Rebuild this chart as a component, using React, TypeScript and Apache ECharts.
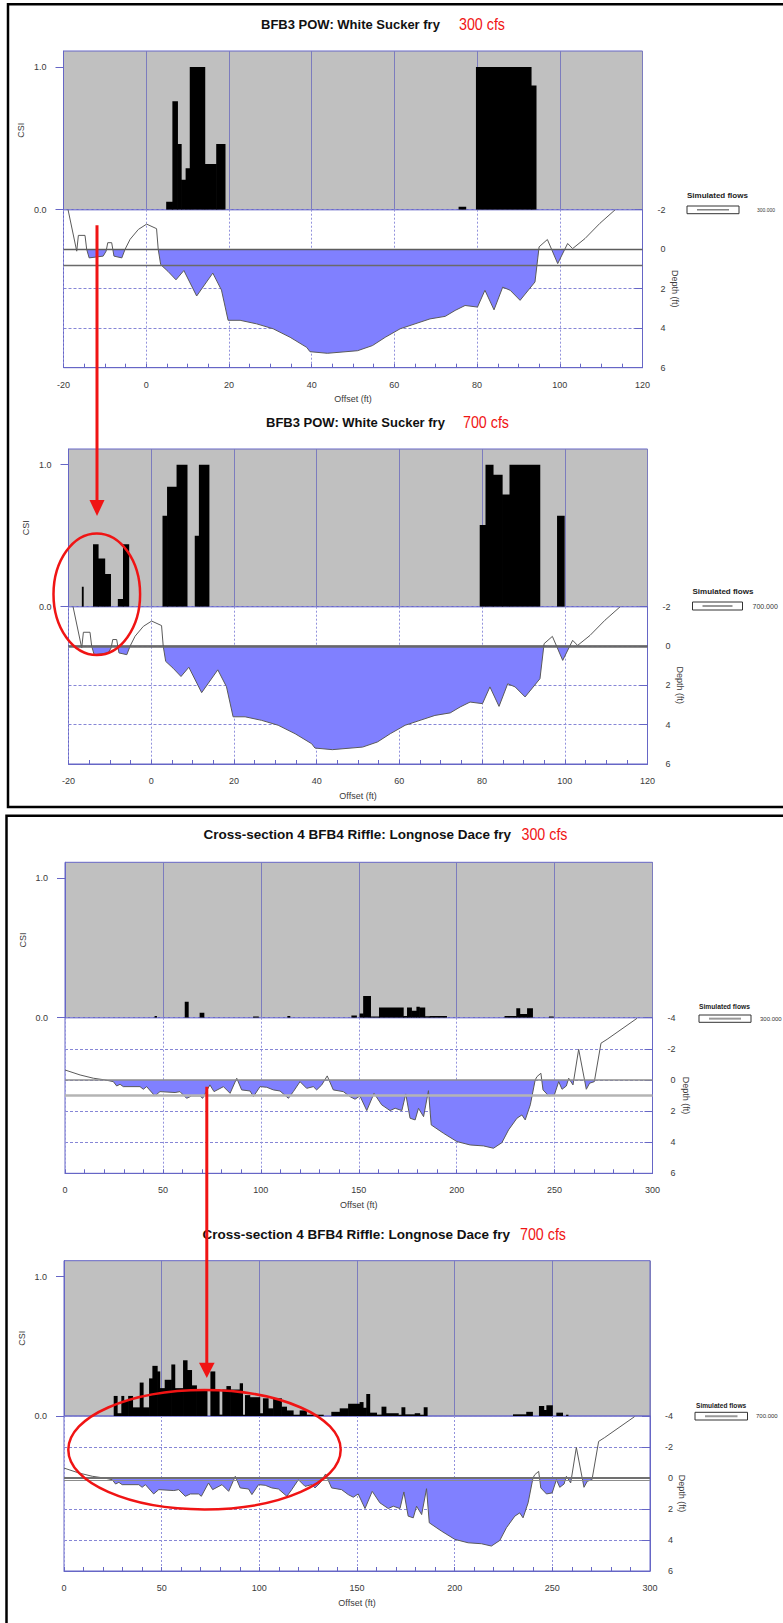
import React, { useEffect, useRef } from "react";
import * as echarts from "echarts";

// ---------------- DATA ----------------
// Bed profiles: [offset (ft), depth (ft)] (depth positive downward)
const bfb3Profile: [number, number][] = [
  [-18.9, -2.0], [-16.8, 0.1], [-16.4, -0.7], [-14.8, -0.7], [-14.4, 0.0], [-13.8, 0.44],
  [-10.4, 0.35], [-9.7, 0.1], [-9.3, -0.33], [-8.35, -0.33], [-7.8, 0.35], [-5.9, 0.44],
  [-5.1, 0.0], [-3.9, -0.5], [-1.9, -1.0], [0.1, -1.27], [2.5, -1.04], [2.9, 0.0],
  [3.5, 0.78], [5.3, 1.13], [7.2, 1.55], [9.1, 1.08], [12.2, 2.37], [16.1, 1.21],
  [18.2, 2.07], [19.8, 3.6], [22.7, 3.6], [26.7, 3.78], [30.7, 4.03], [34.8, 4.46],
  [38.8, 4.97], [39.6, 5.19], [43.8, 5.27], [51.1, 5.14], [54.7, 4.88], [57.8, 4.46],
  [61.4, 4.03], [65.0, 3.78], [68.6, 3.53], [72.3, 3.4], [74.7, 3.1], [77.1, 2.85],
  [80.1, 2.93], [81.9, 2.08], [84.1, 3.07], [86.2, 1.92], [88.0, 2.08], [90.4, 2.59],
  [94.0, 1.66], [95.0, -0.12], [97.0, -0.49], [99.5, 0.73], [101.9, -0.29], [103.1, -0.03],
  [106.1, -0.54], [109.7, -1.31], [113.4, -2.0],
];

const bfb4Profile: [number, number][] = [
  [0, -0.64], [7.7, -0.32], [14.5, -0.11], [20.5, 0], [24.7, 0.11], [26.4, 0.39], [28.1, 0.28],
  [29.8, 0.43], [38.3, 0.43], [40.0, 0.6], [41.7, 0.43], [45.9, 1.03], [48.5, 0.75], [56.2, 0.81],
  [58.7, 0.75], [62.1, 1.18], [64.7, 1.03], [68.9, 1.03], [70.3, 1.18], [74.0, 0.32], [76.1, 0.75],
  [80.9, 0.43], [84.3, 0.86], [87.7, -0.11], [90.2, 0.64], [94.5, 0.71], [96.2, 1.07], [99.6, 0.43],
  [103.0, 0.47], [106.4, 0.64], [109.8, 0.71], [114.1, 1.18], [116.6, 0.75], [120.0, 0.11],
  [123.4, 0.54], [126.8, 0.43], [128.5, 0.64], [131.1, 0.32], [133.9, -0.26], [137.0, 0.64],
  [142.1, 0.75], [145.5, 1.07], [148.1, 1.24], [150.6, 1.03], [154.1, 1.97], [157.8, 0.86],
  [161.7, 1.6], [166.0, 1.97], [168.6, 1.82], [172.0, 1.97], [174.0, 0.9], [176.2, 2.46],
  [178.8, 2.57], [180.5, 1.82], [183.1, 2.36], [185.6, 0.69], [187.0, 2.89], [193.3, 3.43],
  [200.1, 3.96], [206.9, 4.18], [213.7, 4.24], [218.8, 4.39], [223.1, 4.03], [226.5, 3.21],
  [230.8, 2.46], [233.3, 2.25], [235.0, 2.57], [237.6, 1.6], [240.1, 0], [241.0, -0.21],
  [243.0, -0.43], [244.1, 0.64], [247.0, 1.03], [249.9, 0.96], [252.1, 0.11], [253.8, 0.6],
  [256.0, 0.39], [257.2, -0.11], [259.4, 0.32], [262.3, -1.97], [266.2, 0.6], [267.9, 0.21],
  [270.3, 0.11], [273.7, -2.36], [276.8, -2.61], [292.1, -3.96],
];

// CSI cells: [start offset, end offset, CSI]
const p1Csi: [number, number, number][] = [
  [4.9, 6.4, 0.055], [6.4, 7.6, 0.76], [7.6, 8.5, 0.46], [8.5, 9.6, 0.21], [9.6, 10.6, 0.29],
  [10.6, 14.2, 1.0], [14.2, 17.0, 0.32], [17.0, 19.1, 0.46], [75.6, 77.3, 0.02],
  [79.8, 93.1, 1.0], [93.1, 94.3, 0.87],
];

const p2Csi: [number, number, number][] = [
  [-16.7, -16.4, 0.14], [-14.0, -12.8, 0.44], [-12.8, -11.2, 0.34], [-11.2, -9.8, 0.23],
  [-8.0, -6.75, 0.054], [-6.75, -5.4, 0.44], [2.8, 3.9, 0.64], [3.9, 6.2, 0.845], [6.2, 8.7, 1.0],
  [10.6, 11.6, 0.5], [11.6, 14.0, 1.0], [79.5, 80.9, 0.575], [80.9, 82.7, 1.0], [82.7, 84.9, 0.93],
  [84.9, 86.7, 0.79], [86.7, 94.0, 1.0], [98.2, 99.9, 0.64],
];

const p3Csi: [number, number, number][] = [
  [45.9, 46.8, 0.012], [61.3, 63.0, 0.115], [68.9, 71.0, 0.036], [96.2, 98.8, 0.007],
  [113.7, 114.9, 0.012], [146.4, 148.9, 0.015], [150.6, 152.4, 0.03], [152.4, 156.1, 0.155],
  [156.1, 160.5, 0.008], [160.5, 172.8, 0.074], [172.8, 174.8, 0.012], [174.8, 177.0, 0.074],
  [177.0, 179.6, 0.05], [179.6, 181.0, 0.079], [181.0, 183.8, 0.074], [183.8, 186.4, 0.01],
  [186.4, 194.9, 0.012], [224.6, 230.6, 0.012], [230.6, 232.3, 0.067], [232.3, 236.1, 0.026],
  [236.1, 238.8, 0.067], [247.3, 249.4, 0.007],
];

const p4Csi: [number, number, number][] = [
  [25.6, 27.3, 0.144], [27.3, 29.5, 0.02], [29.5, 30.7, 0.144], [30.7, 33.0, 0.115],
  [33.0, 35.2, 0.144], [35.2, 38.9, 0.062], [38.9, 40.6, 0.24], [40.6, 43.7, 0.062],
  [43.7, 45.4, 0.27], [45.4, 47.8, 0.36], [47.8, 49.1, 0.32], [49.1, 51.7, 0.2],
  [51.7, 55.1, 0.26], [55.1, 56.8, 0.37], [56.8, 61.1, 0.2], [61.1, 63.1, 0.4],
  [63.1, 65.4, 0.33], [65.4, 67.9, 0.22], [67.9, 73.3, 0.19], [75.1, 77.3, 0.32],
  [77.3, 79.5, 0.19], [79.5, 81.2, 0.01], [81.2, 83.3, 0.19], [83.3, 85.3, 0.215],
  [85.3, 90.1, 0.19], [90.1, 91.5, 0.235], [91.5, 92.8, 0.007], [92.8, 95.2, 0.15],
  [95.2, 100.3, 0.135], [100.3, 102.0, 0.02], [102.0, 104.6, 0.127], [104.6, 107.2, 0.055],
  [107.2, 111.4, 0.127], [111.4, 114.0, 0.067], [114.0, 117.4, 0.04], [117.4, 120.8, 0.007],
  [120.8, 124.2, 0.04], [124.2, 132.8, 0.007], [137.0, 141.3, 0.03], [141.3, 145.6, 0.055],
  [145.6, 151.5, 0.088], [151.5, 153.2, 0.1], [153.2, 154.9, 0.06], [154.9, 156.6, 0.158],
  [156.6, 160.1, 0.024], [160.1, 162.7, 0.01], [162.7, 164.9, 0.067], [164.9, 171.2, 0.02],
  [171.2, 172.9, 0.005], [172.9, 174.6, 0.062], [174.6, 179.7, 0.012], [179.7, 182.2, 0.02],
  [182.2, 184.3, 0.005], [184.3, 186.0, 0.062], [230.0, 236.8, 0.012], [236.8, 239.9, 0.03],
  [243.3, 245.7, 0.072], [245.7, 247.1, 0.043], [247.1, 250.1, 0.077], [252.2, 255.3, 0.024],
  [257.2, 258.1, 0.005],
];

// Water surface lines (depth ft)
const p1Water = [0, 0.8];
const p2Water = [0, 0.06];
const p3Water = [0, 0.96];
const p4Water = [0, 0.15];

// Tick labels
const bfb3OffsetTicks = [-20, 0, 20, 40, 60, 80, 100, 120];
const bfb4OffsetTicks = [0, 50, 100, 150, 200, 250, 300];
const bfb3DepthTicks = [-2, 0, 2, 4, 6];
const bfb4DepthTicks = [-4, -2, 0, 2, 4, 6];
const csiTicks = [0, 1];

// Texts
const bfb3Title = "BFB3 POW: White Sucker fry";
const bfb4Title = "Cross-section 4 BFB4 Riffle: Longnose Dace fry";
const flowLabels = ["300 cfs", "700 cfs", "300 cfs", "700 cfs"];
const legendTitle = "Simulated flows";
const legendValues = ["300.000", "700.000", "300.000", "700.000"];

// ---------------- STYLE / LAYOUT ----------------
const BLUE = "#6666c6";
const GRID_SOLID = "#7c7cbe";
const GRID_DASH = "#9292dc";
const FILL = "#8080ff";
const RED = "#f01414";
const TXT = "#3a3a3a";
const FONT = "Liberation Sans, Arial, sans-serif";

const panels = [
  {
    left: 63.5, right: 642.5, top: 51, csiOne: 67, csiZero: 209.7, bottom: 367.7,
    title: bfb3Title, titleX: 261, flowX: 459, titleY: 24, titleSize: 13,
    lg: { x: 687, y: 195, bx: 687, by: 206, bw: 52, bh: 7.7, vx: 757, vy: 210, ns: 8, vs: 5, lc: "#444", lw: 1 },
    profile: bfb3Profile, csi: p1Csi, water: p1Water,
    waterStyle: [{ color: "#5c5c5c", width: 1.3 }, { color: "#6a6a6a", width: 1.3 }],
    offsetTicks: bfb3OffsetTicks, minorSplit: 4, depthTicks: bfb3DepthTicks, depthGap: 27.5,
  },
  {
    left: 68.5, right: 647.5, top: 449, csiOne: 464.7, csiZero: 606.7, bottom: 764,
    title: bfb3Title, titleX: 266, flowX: 463, titleY: 422.3, titleSize: 13,
    lg: { x: 692.5, y: 591, bx: 692.5, by: 602, bw: 50, bh: 8, vx: 752.5, vy: 606, ns: 8, vs: 7, lc: "#999", lw: 2 },
    profile: bfb3Profile, csi: p2Csi, water: p2Water,
    waterStyle: [{ color: "#505050", width: 1.6 }, { color: "#6a6a6a", width: 1.6 }],
    offsetTicks: bfb3OffsetTicks, minorSplit: 4, depthTicks: bfb3DepthTicks, depthGap: 27.5,
  },
  {
    left: 65, right: 652.5, top: 862.3, csiOne: 878.3, csiZero: 1017.7, bottom: 1173.3,
    title: bfb4Title, titleX: 203.5, flowX: 521.5, titleY: 834.3, titleSize: 13.5,
    lg: { x: 699, y: 1006.7, bx: 699, by: 1015, bw: 52, bh: 7.3, vx: 760, vy: 1018.6, ns: 6.7, vs: 6, lc: "#999", lw: 2 },
    profile: bfb4Profile, csi: p3Csi, water: p3Water,
    waterStyle: [{ color: "#8c8c8c", width: 1.5 }, { color: "#b4b4b4", width: 2.5 }],
    offsetTicks: bfb4OffsetTicks, minorSplit: 5, depthTicks: bfb4DepthTicks, depthGap: 29,
  },
  {
    left: 64, right: 650, top: 1260.7, csiOne: 1276.7, csiZero: 1416, bottom: 1571,
    title: bfb4Title, titleX: 202.5, flowX: 520, titleY: 1234.3, titleSize: 13.5,
    lg: { x: 696, y: 1405, bx: 695, by: 1412.3, bw: 52.5, bh: 7.7, vx: 756, vy: 1416, ns: 6.6, vs: 6, lc: "#999", lw: 2 },
    profile: bfb4Profile, csi: p4Csi, water: p4Water,
    waterStyle: [{ color: "#707070", width: 1.8 }, { color: "#8c8c8c", width: 1 }],
    offsetTicks: bfb4OffsetTicks, minorSplit: 5, depthTicks: bfb4DepthTicks, depthGap: 27.5,
  },
];

function buildOption() {
  const grid: any[] = [];
  const xAxis: any[] = [];
  const yAxis: any[] = [];
  const series: any[] = [];
  const elements: any[] = [];

  panels.forEach((p, i) => {
    const g = i * 3;
    const width = p.right - p.left;
    const ot = p.offsetTicks;
    const xMin = ot[0];
    const xMax = ot[ot.length - 1];
    const xInt = ot[1] - ot[0];
    const dt = p.depthTicks;
    const dMin = dt[0];
    const dMax = dt[dt.length - 1];
    const dInt = dt[1] - dt[0];
    const csiMax = (p.csiZero - p.top) / (p.csiZero - p.csiOne);
    const waterTop = p.csiZero + ((0 - dMin) / (dMax - dMin)) * (p.bottom - p.csiZero);

    grid.push({
      left: p.left, top: p.top, width, height: p.csiZero - p.top, show: true,
      backgroundColor: "#c0c0c0", borderColor: BLUE, borderWidth: 1, containLabel: false, outerBoundsMode: "none",
    });
    grid.push({
      left: p.left, top: p.csiZero, width, height: p.bottom - p.csiZero, show: true,
      backgroundColor: "rgba(0,0,0,0)", borderColor: BLUE, borderWidth: 1, containLabel: false, outerBoundsMode: "none",
    });
    grid.push({
      left: p.left, top: waterTop, width, height: p.bottom - waterTop, show: false,
      containLabel: false, outerBoundsMode: "none",
    });

    // CSI axes
    xAxis.push({
      type: "value", gridIndex: g, min: xMin, max: xMax, interval: xInt,
      axisLabel: { show: false }, axisTick: { show: false }, axisLine: { show: false, onZero: false },
      splitLine: { show: true, lineStyle: { color: GRID_SOLID, width: 1 } },
    });
    yAxis.push({
      type: "value", gridIndex: g, min: 0, max: csiMax, position: "left",
      axisLine: { show: true, onZero: false, lineStyle: { color: BLUE, width: 1 } },
      axisTick: { show: true, length: 8, customValues: csiTicks, lineStyle: { color: BLUE } },
      axisLabel: {
        customValues: csiTicks, formatter: (v: number) => v.toFixed(1),
        margin: 17, fontSize: 9, color: TXT, fontFamily: FONT,
      },
      splitLine: { show: false },
      name: "CSI", nameLocation: "middle", nameGap: 38, nameMoveOverlap: false,
      nameTextStyle: { fontSize: 9, color: TXT, fontFamily: FONT },
    });

    // Depth (line) axes
    xAxis.push({
      type: "value", gridIndex: g + 1, min: xMin, max: xMax, interval: xInt, position: "bottom",
      axisLine: { show: true, onZero: false, lineStyle: { color: BLUE, width: 1 } },
      axisTick: { show: true, inside: true, length: 4, lineStyle: { color: BLUE } },
      minorTick: { show: true, splitNumber: p.minorSplit, length: 4, lineStyle: { color: BLUE } },
      axisLabel: { fontSize: 9, color: TXT, margin: 12.5, fontFamily: FONT },
      splitLine: { show: true, lineStyle: { color: GRID_DASH, width: 1, type: [2, 2] } },
      minorSplitLine: { show: false },
      name: "Offset (ft)", nameLocation: "middle", nameGap: 27, nameMoveOverlap: false,
      nameTextStyle: { fontSize: 9, color: TXT, fontFamily: FONT },
    });
    yAxis.push({
      type: "value", gridIndex: g + 1, position: "right", inverse: true,
      min: dMin, max: dMax, interval: dInt,
      axisLine: { show: true, onZero: false, lineStyle: { color: BLUE, width: 1 } },
      axisTick: { show: true, inside: true, length: 8, lineStyle: { color: BLUE } },
      axisLabel: { fontSize: 9, color: TXT, margin: 23, align: "right", fontFamily: FONT },
      splitLine: { show: true, lineStyle: { color: "#8686d6", width: 1, type: [3, 2] } },
      name: "Depth (ft)", nameLocation: "middle", nameRotate: -90, nameGap: p.depthGap, nameMoveOverlap: false,
      nameTextStyle: { fontSize: 9, color: TXT, fontFamily: FONT },
    });

    // Water fill axes (hidden)
    xAxis.push({ type: "value", gridIndex: g + 2, min: xMin, max: xMax, show: false, axisLine: { onZero: false } });
    yAxis.push({ type: "value", gridIndex: g + 2, min: 0, max: dMax, inverse: true, show: false, axisLine: { onZero: false } });

    // CSI bars
    series.push({
      type: "custom", xAxisIndex: g, yAxisIndex: g, data: p.csi, clip: true, z: 3,
      encode: { x: [0, 1], y: 2 },
      renderItem: (_params: any, api: any) => {
        const a = api.coord([api.value(0), api.value(2)]);
        const b = api.coord([api.value(1), 0]);
        const h = Math.max(b[1] - a[1], 1.3);
        const w = Math.max(b[0] - a[0], 1) + 0.6;
        return {
          type: "rect",
          shape: { x: a[0] - 0.3, y: b[1] - h, width: w, height: h },
          style: { fill: "#000" },
        };
      },
    });

    // Water fill
    series.push({
      type: "line", xAxisIndex: g + 2, yAxisIndex: g + 2, data: p.profile, symbol: "none",
      clip: true, z: 2, silent: true,
      lineStyle: { width: 0, opacity: 0 },
      areaStyle: { color: FILL, opacity: 1, origin: "start" },
    });

    // Bed line and water surface lines
    series.push({
      type: "line", xAxisIndex: g + 1, yAxisIndex: g + 1, data: p.profile, symbol: "none",
      clip: true, z: 4, silent: true,
      lineStyle: { color: "#5a5a5a", width: 1 },
      markLine: {
        silent: true, symbol: ["none", "none"], label: { show: false }, animation: false,
        data: p.water.map((w, j) => ({
          yAxis: w,
          lineStyle: { color: p.waterStyle[j].color, width: p.waterStyle[j].width, type: "solid" },
        })),
      },
    });

    // Title texts
    elements.push({
      type: "text", x: p.titleX, y: p.titleY, z: 50,
      style: {
        text: p.title, fontSize: p.titleSize, fontWeight: "bold", fontFamily: FONT,
        fill: "#111", align: "left", verticalAlign: "middle",
      },
    });
    elements.push({
      type: "text", x: p.flowX, y: p.titleY, scaleX: 0.84, z: 50,
      style: {
        text: flowLabels[i], fontSize: 17, fontFamily: FONT, fill: RED,
        align: "left", verticalAlign: "middle",
      },
    });

    // Legend
    const lg = p.lg;
    elements.push({
      type: "text", x: lg.x, y: lg.y, z: 50,
      style: { text: legendTitle, fontSize: lg.ns, fontWeight: "bold", fontFamily: FONT, fill: "#222", verticalAlign: "middle" },
    });
    elements.push({
      type: "rect", z: 50, shape: { x: lg.bx, y: lg.by, width: lg.bw, height: lg.bh },
      style: { fill: "#fff", stroke: "#333", lineWidth: 1 },
    });
    elements.push({
      type: "line", z: 51,
      shape: { x1: lg.bx + 10, y1: lg.by + lg.bh / 2, x2: lg.bx + lg.bw - 10, y2: lg.by + lg.bh / 2 },
      style: { stroke: lg.lc, lineWidth: lg.lw },
    });
    elements.push({
      type: "text", x: lg.vx, y: lg.vy, z: 50,
      style: { text: legendValues[i], fontSize: lg.vs, fontFamily: FONT, fill: "#333", verticalAlign: "middle" },
    });
  });

  // Frame boxes
  elements.push({
    type: "rect", z: 60, shape: { x: 8, y: 4.3, width: 800, height: 802.7 },
    style: { fill: "none", stroke: "#000", lineWidth: 2.5 },
  });
  elements.push({
    type: "rect", z: 60, shape: { x: 6.5, y: 815.7, width: 800, height: 900 },
    style: { fill: "none", stroke: "#000", lineWidth: 2.5 },
  });

  // Red annotations
  elements.push({ type: "line", z: 100, shape: { x1: 97, y1: 225.3, x2: 97, y2: 503 }, style: { stroke: RED, lineWidth: 3 } });
  elements.push({ type: "polygon", z: 100, shape: { points: [[89.5, 500], [104.5, 500], [97, 516]] }, style: { fill: RED } });
  elements.push({ type: "ellipse", z: 100, shape: { cx: 96.8, cy: 594.2, rx: 43.3, ry: 60.8 }, style: { fill: "none", stroke: RED, lineWidth: 2.5 } });
  elements.push({ type: "line", z: 100, shape: { x1: 206.8, y1: 1086.7, x2: 206.8, y2: 1365 }, style: { stroke: RED, lineWidth: 3 } });
  elements.push({ type: "polygon", z: 100, shape: { points: [[199, 1362.7], [214.6, 1362.7], [206.8, 1378]] }, style: { fill: RED } });
  elements.push({ type: "ellipse", z: 100, shape: { cx: 204.5, cy: 1449.7, rx: 136.2, ry: 59.7 }, style: { fill: "none", stroke: RED, lineWidth: 2.5 } });

  return {
    animation: false,
    backgroundColor: "#ffffff",
    textStyle: { fontFamily: FONT },
    grid,
    xAxis,
    yAxis,
    series,
    graphic: { elements },
  };
}

export default function App() {
  const ref = useRef<HTMLDivElement>(null);
  useEffect(() => {
    if (!ref.current) return;
    const chart = echarts.init(ref.current, null, { renderer: "svg", width: 783, height: 1623 });
    chart.setOption(buildOption() as any);
    return () => chart.dispose();
  }, []);
  return (
    <div
      ref={ref}
      style={{ position: "absolute", left: 0, top: 0, width: 783, height: 1623, background: "#fff" }}
    />
  );
}
